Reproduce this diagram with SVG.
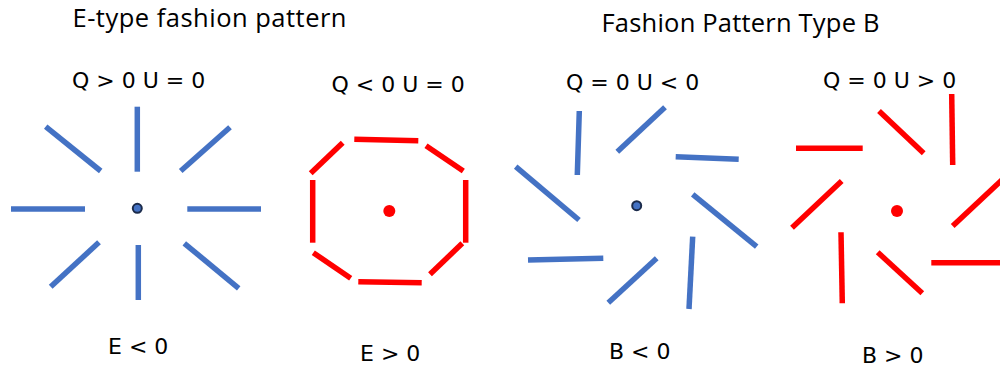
<svg xmlns="http://www.w3.org/2000/svg" width="1000" height="370" viewBox="0 0 1000 370">
<style>
.title{font-family:"Open Sans","Liberation Sans",Arial,sans-serif;font-size:25.5px;fill:#000}
.lbl{font-family:"DejaVu Sans",Verdana,sans-serif;font-size:22px;fill:#000}
.b{stroke:#4472C4;stroke-width:5.5;fill:none}
.r{stroke:#FF0000;stroke-width:5.5;fill:none}
.bdot{fill:#4472C4;stroke:#1B2B4B;stroke-width:2}
.rdot{fill:#FF0000}
</style>
<rect width="1000" height="370" fill="#fff"/>
<g id="titles">
<text class="title" x="72.5" y="27" textLength="274" lengthAdjust="spacing">E-type fashion pattern</text>
<text class="title" x="601.5" y="32" textLength="278" lengthAdjust="spacing">Fashion Pattern Type B</text>
</g>
<g id="panel-e-neg">
<text class="lbl" x="72" y="88">Q &gt; 0 U = 0</text>
<g class="b">
<line x1="137.3" y1="106.7" x2="137.3" y2="171.7"/>
<line x1="138.3" y1="245" x2="138.3" y2="300"/>
<line x1="11" y1="209" x2="85" y2="209"/>
<line x1="187.3" y1="209" x2="261" y2="209"/>
<line x1="45.7" y1="126.7" x2="100.7" y2="171"/>
<line x1="230" y1="127.3" x2="180.7" y2="171"/>
<line x1="99" y1="242.3" x2="50.7" y2="286.7"/>
<line x1="184.3" y1="243.3" x2="238.7" y2="288.3"/>
</g>
<circle class="bdot" cx="137.3" cy="208.3" r="4.5"/>
<text class="lbl" x="108" y="354">E &lt; 0</text>
</g>
<g id="panel-e-pos">
<text class="lbl" x="331.5" y="91.5">Q &lt; 0 U = 0</text>
<g class="r">
<line x1="354.3" y1="139.3" x2="418.3" y2="140.7"/>
<line x1="426" y1="145.7" x2="463.3" y2="171"/>
<line x1="465.7" y1="180" x2="465.7" y2="242.7"/>
<line x1="462.3" y1="243.3" x2="430" y2="274.3"/>
<line x1="358.3" y1="281.7" x2="421.7" y2="282.7"/>
<line x1="313.3" y1="252.7" x2="350.7" y2="278.3"/>
<line x1="312.7" y1="180" x2="312.7" y2="242.7"/>
<line x1="342.7" y1="142.7" x2="310.7" y2="173.3"/>
</g>
<circle class="rdot" cx="389.3" cy="211" r="6"/>
<text class="lbl" x="360" y="361">E &gt; 0</text>
</g>
<g id="panel-b-neg">
<text class="lbl" x="566" y="89.5">Q = 0 U &lt; 0</text>
<g class="b">
<line x1="579.3" y1="111" x2="577.3" y2="175"/>
<line x1="665" y1="107.3" x2="617.3" y2="151.7"/>
<line x1="675.7" y1="156.7" x2="738.7" y2="159.3"/>
<line x1="692.7" y1="194.3" x2="756.7" y2="246.7"/>
<line x1="692.7" y1="236.7" x2="689" y2="309"/>
<line x1="656.7" y1="258.3" x2="608.3" y2="302.7"/>
<line x1="603.3" y1="258.3" x2="528" y2="260"/>
<line x1="579" y1="220" x2="515.7" y2="166.7"/>
</g>
<circle class="bdot" cx="636.7" cy="205.7" r="4.5"/>
<text class="lbl" x="609" y="359">B &lt; 0</text>
</g>
<g id="panel-b-pos">
<text class="lbl" x="823" y="87.5">Q = 0 U &gt; 0</text>
<g class="r">
<line x1="951.7" y1="94" x2="952.7" y2="165"/>
<line x1="879" y1="111" x2="923.7" y2="153.3"/>
<line x1="796" y1="148.3" x2="862.7" y2="148.3"/>
<line x1="841.7" y1="181" x2="792" y2="227.7"/>
<line x1="841" y1="232.3" x2="842.3" y2="303.3"/>
<line x1="877.7" y1="252.3" x2="922.3" y2="293.3"/>
<line x1="931.3" y1="262.7" x2="1002" y2="262.7"/>
<line x1="952.7" y1="226" x2="1005" y2="177"/>
</g>
<circle class="rdot" cx="897" cy="211" r="6"/>
<text class="lbl" x="862" y="363">B &gt; 0</text>
</g>
</svg>
